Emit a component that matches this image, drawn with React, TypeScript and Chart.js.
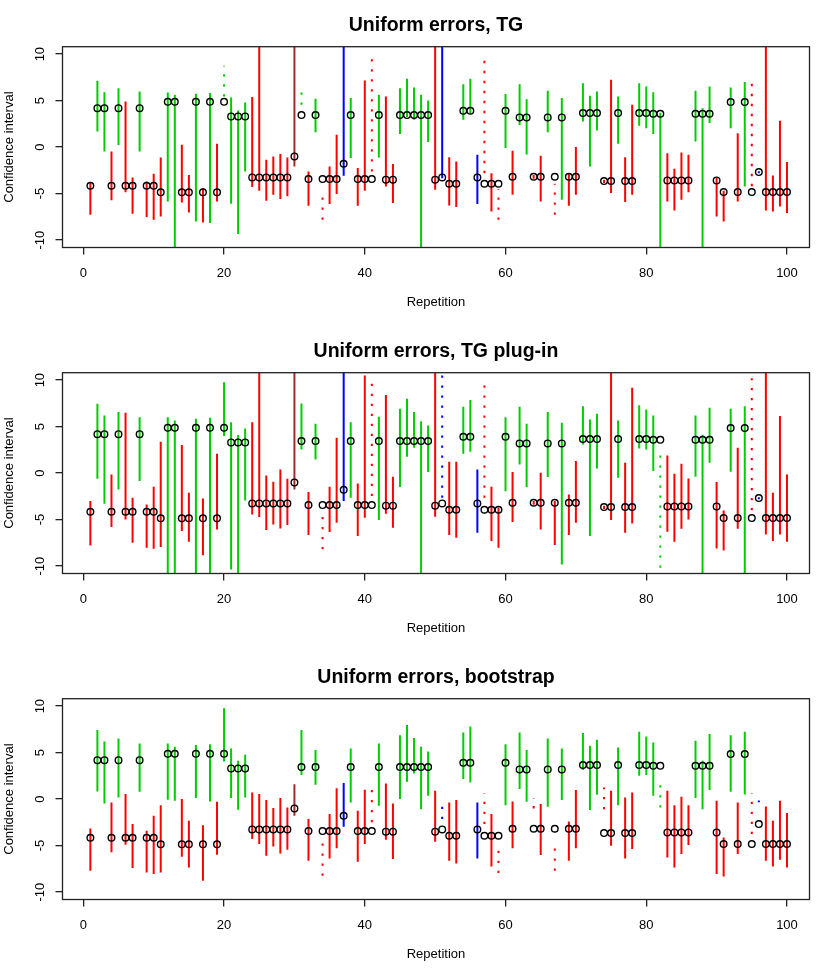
import React, { useEffect, useRef } from "react";
import { Chart, registerables } from "chart.js";
Chart.register(...registerables);

const repetitions: number[] = Array.from({ length: 100 }, (_, i) => i + 1);
const xTicks = [0, 20, 40, 60, 80, 100];
const yTicks = [-10, -5, 0, 5, 10];

const estimates = [
  -4.16, 4.19, 4.19, -4.16, 4.19, -4.16, -4.16, 4.19, -4.16, -4.16,
  -4.87, 4.87, 4.87, -4.87, -4.87, 4.87, -4.87, 4.87, -4.87, 4.87,
  3.30, 3.30, 3.30, -3.26, -3.26, -3.26, -3.26, -3.26, -3.26, -1.00,
  3.44, -3.44, 3.44, -3.44, -3.44, -3.44, -1.79, 3.44, -3.44, -3.44,
  -3.44, 3.44, -3.50, -3.50, 3.44, 3.44, 3.44, 3.44, 3.44, -3.50,
  -3.26, -3.94, -3.94, 3.90, 3.90, -3.26, -3.94, -3.94, -3.94, 3.90,
  -3.19, 3.19, 3.19, -3.19, -3.19, 3.19, -3.19, 3.19, -3.19, -3.19,
  3.66, 3.66, 3.66, -3.66, -3.66, 3.66, -3.66, -3.66, 3.66, 3.66,
  3.58, 3.58, -3.58, -3.58, -3.58, -3.58, 3.58, 3.58, 3.58, -3.58,
  -4.84, 4.84, -4.84, 4.84, -4.84, -2.69, -4.84, -4.84, -4.84, -4.84,
];

const group = (
  "rggrgrrgrr" + "rggrrgrgrg" + "gggrrrrrrd" + "grgrrrbgrr" + "rgrrgggggr" +
  "brrggbrrrg" + "rggrrgrgrr" + "gggrrgrrgg" + "ggrrrrgggr" + "rgrgrbrrrr"
).split("");

const tgLower = [
  -7.28, 1.68, -0.47, -5.73, 0.22, -4.87, -7.17, -0.47, -7.53, -7.81,
  -7.46, -5.84, -12, -5.95, -7.03, -7.99, -8.1, -8.17, -5.84, 5.45,
  -6.09, -9.35, -2.62, -4.3, -4.7, -5.77, -5.13, -5.59, -5.3, -2.08,
  4.55, -6.31, 1.61, -7.81, -6.13, -5.05, -3.08, -1.18, -6.31, -4.7,
  -2.62, -1.11, -4.23, -6.02, 1.4, 3.23, 2.94, -12, 0.54, -4.6,
  -3.35, -6.27, -6.45, 2.94, 3.55, -6.13, -2.8, -6.92, -7.81, -0.11,
  -5.13, 2.37, -0.79, -3.4, -5.84, 1.61, -7.28, -5.66, -6.31, -5.13,
  2.76, -2.08, 1.79, -3.85, -4.95, 0.36, -5.91, -5.13, 2.29, 2.04,
  1.4, -12, -5.84, -6.81, -5.66, -4.87, 0.61, -12, 2.58, -7.46,
  -8.0, 2.04, -5.84, -4.23, -4.2, -2.8, -6.81, -6.92, -6.38, -7.1,
];
const tgUpper = [
  -3.8, 7.13, 5.91, -0.47, 6.34, 4.91, -3.26, 5.99, -3.69, -2.87,
  -1.11, 5.88, 5.63, 0.25, -3.01, 5.73, -4.41, 5.81, 0.36, 8.75,
  5.34, 3.94, 4.8, 5.38, 12, -1.36, -1.0, -0.75, -1.11, 12,
  6.7, -2.62, 5.2, -4.59, -2.08, 1.33, 12, 5.27, -2.26, 7.17,
  10.18, 5.63, 5.45, -1.83, 6.34, 7.35, 6.42, 5.63, 5.02, 12,
  12, -1.08, -1.54, 6.77, 7.35, -0.82, 10.1, -2.8, -4.52, 5.7,
  -0.39, 6.77, 5.16, -3.0, -0.93, 6.06, -3.94, 5.27, -2.8, 0.0,
  6.88, 5.52, 5.99, -3.5, 7.24, 5.45, -1.08, 4.55, 6.88, 6.52,
  5.91, 3.7, -0.65, -2.33, -0.57, -0.82, 6.06, 4.19, 6.52, -3.3,
  -4.7, 6.42, 1.5, 6.99, 7.06, -2.6, 12, -3.05, 2.83, -1.61,
];

const plugLower = [
  -7.78, -0.61, -3.3, -5.81, -1.76, -4.98, -7.49, -0.86, -8.03, -8.14,
  -7.96, -12, -12, -6.24, -7.38, -12, -8.85, -12, -6.06, 3.98,
  -10.36, -12, -2.94, -4.44, -4.73, -6.13, -5.52, -5.95, -5.59, -1.76,
  2.54, -6.67, 1.47, -8.2, -6.34, -5.34, -3.01, -2.65, -6.77, -4.8,
  -2.47, -5.05, -4.37, -5.88, -1.5, 1.76, 2.72, -12, 0.11, -4.7,
  -2.65, -6.67, -6.95, 2.08, 2.29, -6.42, -2.65, -7.31, -8.03, -1.94,
  -5.27, 0.93, -1.5, -3.4, -6.06, -0.43, -7.74, -9.82, -6.67, -5.34,
  3.08, -6.77, 0.5, -3.85, -5.05, -0.5, -6.42, -5.41, 2.65, 2.54,
  0.22, -10.18, -6.31, -7.38, -5.99, -4.98, -0.39, -12, 1.11, -8.1,
  -8.32, 0.14, -5.99, -12, -4.0, -2.8, -6.6, -7.31, -6.6, -7.38,
];
const plugUpper = [
  -3.01, 7.46, 6.2, -0.14, 6.56, 6.49, -2.65, 6.02, -3.37, -1.47,
  3.37, 6.02, 5.66, 3.01, -2.11, 5.84, -2.72, 5.95, 2.08, 9.78,
  5.48, 4.09, 4.8, 5.48, 12, -0.25, -0.93, 0.39, -0.61, 12,
  7.49, -2.04, 5.3, -3.9, -1.47, 3.8, 12, 5.48, -1.11, 10.5,
  10.25, 6.06, 8.39, -0.39, 6.92, 7.99, 6.56, 5.59, 5.13, 12,
  10.7, 1.22, 1.22, 7.13, 7.85, 0.39, 10.2, -1.47, -3.7, 6.02,
  0.11, 7.13, 5.3, -3.0, 0.04, 6.56, -3.0, 5.41, -2.29, 1.29,
  7.2, 5.77, 6.38, -3.5, 12, 5.66, 1.11, 9.18, 7.31, 6.85,
  6.2, 2.62, 1.9, -0.07, 1.0, -0.57, 6.2, 4.12, 7.03, -0.97,
  -4.01, 6.92, 2.72, 7.2, 10.2, -2.6, 12, -2.11, 6.13, -0.14,
];

const bootLower = [
  -7.71, 0.82, -0.47, -5.73, 0.18, -4.91, -7.42, 0.79, -7.89, -8.06,
  -7.89, -0.07, -0.18, -6.2, -7.35, 0.11, -8.78, -0.25, -5.99, 4.05,
  0.11, -1.15, 0.18, -4.3, -4.84, -6.09, -5.09, -5.84, -5.45, -1.79,
  2.58, -6.63, 1.54, -8.24, -6.38, -5.3, -2.97, -0.36, -6.74, -4.84,
  -2.5, -0.72, -4.37, -6.45, 0.0, 1.86, 2.76, -1.08, 0.36, -4.59,
  -2.15, -6.63, -6.92, 2.15, 1.79, -6.38, -2.69, -7.24, -7.96, -0.65,
  -5.3, 1.08, -0.29, -1.0, -6.02, -0.82, -7.71, -0.11, -6.63, -5.3,
  3.12, -1.18, 0.47, -1.1, -5.02, -0.65, -6.38, -5.38, 2.51, 2.58,
  0.36, -0.9, -6.27, -7.35, -5.91, -4.95, 0.11, -1.08, 0.97, -8.06,
  -8.32, 0.79, -5.91, 0.5, -3.76, -0.35, -6.63, -7.24, -6.52, -7.35,
];
const bootUpper = [
  -3.15, 7.42, 6.2, -0.36, 6.52, 0.54, -2.69, 5.99, -3.41, -1.79,
  -0.65, 5.99, 5.63, 0.0, -2.33, 5.81, -2.8, 5.91, -0.29, 9.78,
  5.45, 4.12, 4.77, 0.72, 0.54, -0.11, -0.97, 0.11, -0.9, 1.61,
  7.42, -2.15, 5.27, -3.94, -1.61, 1.18, 1.72, 5.45, -1.25, 1.0,
  1.72, 5.99, 1.68, -0.47, 6.88, 7.96, 6.56, 5.63, 5.13, 0.9,
  0.0, -0.36, -0.11, 7.17, 7.81, -0.36, 0.61, -1.61, -4.73, 5.91,
  -0.25, 7.17, 5.27, 0.11, -0.54, 6.52, -4.48, 5.45, -2.4, 0.97,
  7.1, 5.73, 6.38, 1.25, 0.9, 5.56, 0.18, 0.72, 7.24, 6.74,
  6.09, 2.33, 0.9, -0.65, 0.25, -0.65, 6.27, 4.12, 6.99, -0.18,
  -4.12, 6.88, -0.36, 7.24, 0.61, -0.15, -0.79, -2.33, -0.18, -1.5,
];

const palette: Record<string, string> = {
  r: "#FF0000",
  g: "#00CD00",
  b: "#0000FF",
  d: "#A52A2A",
};

const FONT = '"Liberation Sans", Arial, Helvetica, sans-serif';
const PANEL_W = 830;
const PANEL_H = 326;

function Panel({ title, lower, upper }: { title: string; lower: number[]; upper: number[] }) {
  const ref = useRef<HTMLCanvasElement | null>(null);
  useEffect(() => {
    if (!ref.current) return;
    const intervalData: { x: number; y: number | null }[] = [];
    repetitions.forEach((r, i) => {
      intervalData.push({ x: r, y: lower[i] }, { x: r, y: upper[i] }, { x: r, y: null });
    });
    const pointData = repetitions.map((r, i) => ({ x: r, y: estimates[i] }));
    const idx = (c: any) => Math.floor(c.p0DataIndex / 3);
    const excludes = (i: number) => estimates[i] < lower[i] || estimates[i] > upper[i];

    const textPlugin = {
      id: "rtext",
      afterDraw(chart: any) {
        const { ctx, chartArea: a, scales } = chart;
        ctx.save();
        ctx.strokeStyle = "#222";
        ctx.lineWidth = 1.3;
        ctx.strokeRect(a.left, a.top, a.right - a.left, a.bottom - a.top);
        ctx.fillStyle = "#000";
        const cx = (a.left + a.right) / 2;
        ctx.textAlign = "center";
        ctx.textBaseline = "alphabetic";
        ctx.font = `bold 19.5px ${FONT}`;
        ctx.fillText(title, cx, 30.7);
        ctx.font = `13px ${FONT}`;
        scales.x.ticks.forEach((t: any) => {
          ctx.fillText(String(t.value), scales.x.getPixelForValue(t.value), a.bottom + 29.2);
        });
        scales.y.ticks.forEach((t: any) => {
          ctx.save();
          ctx.translate(a.left - 18.2, scales.y.getPixelForValue(t.value));
          ctx.rotate(-Math.PI / 2);
          ctx.fillText(String(t.value), 0, 0);
          ctx.restore();
        });
        ctx.fillText("Repetition", cx, a.bottom + 58.5);
        ctx.save();
        ctx.translate(13.3, (a.top + a.bottom) / 2);
        ctx.rotate(-Math.PI / 2);
        ctx.fillText("Confidence interval", 0, 0);
        ctx.restore();
        ctx.restore();
      },
    };

    const chart = new Chart(ref.current, {
      type: "scatter",
      data: {
        datasets: [
          {
            data: pointData,
            showLine: false,
            pointRadius: 3.3,
            pointBorderWidth: 1.4,
            pointBorderColor: "#000",
            pointBackgroundColor: "rgba(0,0,0,0)",
            order: 0,
          } as any,
          {
            data: intervalData,
            showLine: true,
            spanGaps: false,
            pointRadius: 0,
            borderWidth: 2,
            borderColor: "#FF0000",
            borderCapStyle: "butt",
            order: 1,
            segment: {
              borderColor: (c: any) => palette[group[idx(c)]],
              borderDash: (c: any) => (excludes(idx(c)) ? [2.3, 7.7] : []),
            },
          } as any,
        ],
      },
      options: {
        responsive: false,
        animation: false,
        events: [],
        layout: { padding: { top: 46.7, right: 20.5, left: 0, bottom: 0 } },
        plugins: {
          legend: { display: false },
          title: { display: false },
          tooltip: { enabled: false },
        },
        scales: {
          x: {
            type: "linear",
            min: -2.96,
            max: 103.2,
            afterBuildTicks: (s: any) => {
              s.ticks = xTicks.map((v) => ({ value: v }));
            },
            afterFit: (s: any) => {
              s.height = 78.5;
            },
            ticks: { display: false },
            border: { display: false },
            grid: { drawOnChartArea: false, drawTicks: true, tickLength: 7, color: "#222", lineWidth: 1.3 },
          },
          y: {
            type: "linear",
            min: -10.8,
            max: 10.8,
            afterBuildTicks: (s: any) => {
              s.ticks = yTicks.map((v) => ({ value: v }));
            },
            afterFit: (s: any) => {
              s.width = 62.5;
            },
            ticks: { display: false },
            border: { display: false },
            grid: { drawOnChartArea: false, drawTicks: true, tickLength: 7, color: "#222", lineWidth: 1.3 },
          },
        },
      } as any,
      plugins: [textPlugin],
    });
    return () => chart.destroy();
  }, [title, lower, upper]);
  return <canvas ref={ref} width={PANEL_W} height={PANEL_H} style={{ display: "block", width: PANEL_W, height: PANEL_H }} />;
}

export default function App() {
  return (
    <div style={{ position: "absolute", left: 0, top: 0, width: 830, height: 979, background: "#fff" }}>
      <div style={{ position: "absolute", left: 0, top: 0 }}>
        <Panel title="Uniform errors, TG" lower={tgLower} upper={tgUpper} />
      </div>
      <div style={{ position: "absolute", left: 0, top: 326 }}>
        <Panel title="Uniform errors, TG plug-in" lower={plugLower} upper={plugUpper} />
      </div>
      <div style={{ position: "absolute", left: 0, top: 652 }}>
        <Panel title="Uniform errors, bootstrap" lower={bootLower} upper={bootUpper} />
      </div>
    </div>
  );
}
